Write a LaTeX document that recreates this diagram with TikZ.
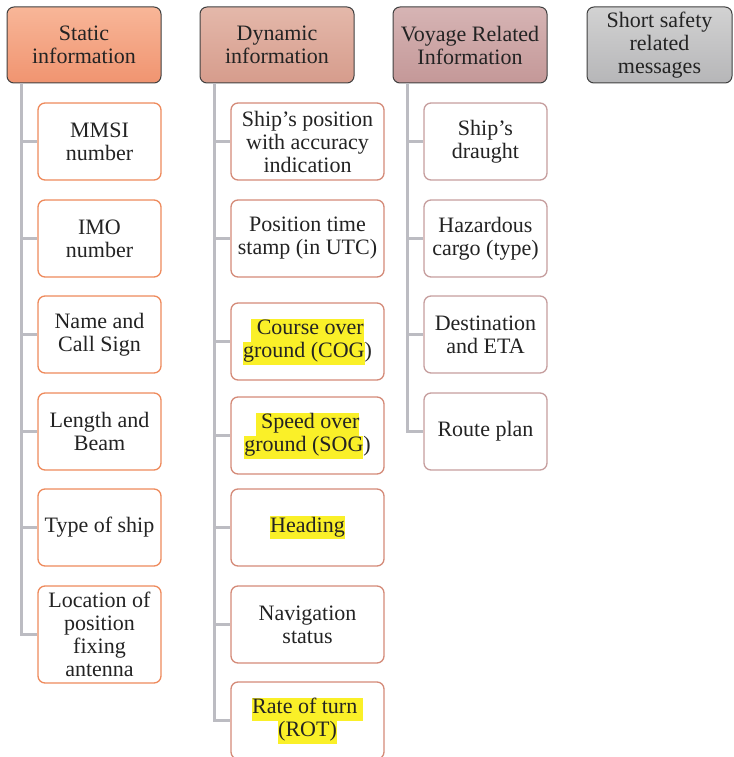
\documentclass[tikz,border=0pt]{standalone}
\usepackage{fontspec}
\setmainfont{Liberation Serif}

\definecolor{staticTop}{RGB}{248,182,152}
\definecolor{staticBot}{RGB}{240,148,112}
\definecolor{dynTop}{RGB}{228,184,170}
\definecolor{dynBot}{RGB}{214,156,140}
\definecolor{voyTop}{RGB}{214,180,180}
\definecolor{voyBot}{RGB}{196,152,152}
\definecolor{safeTop}{RGB}{210,210,210}
\definecolor{safeBot}{RGB}{182,182,184}
\definecolor{staticLine}{RGB}{238,138,92}
\definecolor{dynLine}{RGB}{212,138,120}
\definecolor{voyLine}{RGB}{198,158,158}
\definecolor{trunk}{RGB}{188,188,194}
\definecolor{hlyellow}{RGB}{250,240,40}
\definecolor{ink}{RGB}{35,35,35}

\newcommand\hlt[1]{{\setlength{\fboxsep}{0pt}\colorbox{hlyellow}{\strut #1}}}

\tikzset{
  box/.style={draw, rounded corners=7pt, line width=1.3pt, align=center,
    inner sep=1pt, minimum height=77pt, text=ink,
    font=\fontsize{22}{23}\selectfont},
  head/.style={box, draw=black!75, line width=1pt, minimum width=154pt, minimum height=76pt},
  leaf/.style={box, fill=white, minimum width=123pt},
  conn/.style={draw=trunk, line width=3.8pt}
}

\begin{document}
\begin{tikzpicture}[x=1pt,y=-1pt]
        \useasboundingbox (0,0) rectangle (733,757);

        % draw the four headers
        \node[head, top color=staticTop, bottom color=staticBot] (st) at (84,45) {Static\\information};
        \node[head, top color=dynTop, bottom color=dynBot] (dy) at (277,45) {Dynamic\\information};
        \node[head, top color=voyTop, bottom color=voyBot] (vo) at (470,45) {Voyage Related\\Information};
        \node[head, top color=safeTop, bottom color=safeBot, minimum width=145pt] (sa) at (659.5,45) {Short safety\\related\\messages};

        % trunk start points
        \coordinate (st-t) at ([xshift=15pt]st.south west);
        \coordinate (dy-t) at ([xshift=15pt]dy.south west);
        \coordinate (vo-t) at ([xshift=15pt]vo.south west);

        % static information
        \foreach \y/\n/\txt in {
            141.5/st1/{MMSI\\number},
            238.5/st2/{IMO\\number},
            334.5/st3/{Name and\\Call Sign},
            431.5/st4/{Length and\\Beam},
            527.5/st5/{Type of ship}}
        {
                \node[leaf, draw=staticLine] (\n) at (99.5,\y) {\txt};
                \draw[conn] (st-t) |- (\n.west);
        }
        \node[leaf, draw=staticLine, minimum height=97pt] (st6) at (99.5,634.5) {Location of\\position\\fixing\\antenna};
        \draw[conn] (st-t) |- (st6.west);

        % dynamic information
        \foreach \y/\n/\txt in {
            141.5/dy1/{Ship's position\\with accuracy\\indication},
            238.5/dy2/{Position time\\stamp (in UTC)},
            341.5/dy3/{\hlt{ Course over}\\\hlt{ground (COG})},
            435.5/dy4/{\hlt{ Speed over}\\\hlt{ground (SOG})},
            527.5/dy5/{\hlt{Heading}},
            624.5/dy6/{Navigation\\status},
            720.5/dy7/{\hlt{Rate of turn }\\\hlt{(ROT)}}}
        {
                \node[leaf, draw=dynLine, minimum width=153pt] (\n) at (307.5,\y) {\txt};
                \draw[conn] (dy-t) |- (\n.west);
        }

        % voyage related information
        \foreach \y/\n/\txt in {
            141.5/vo1/{Ship's\\draught},
            238.5/vo2/{Hazardous\\cargo (type)},
            334.5/vo3/{Destination\\and ETA},
            431.5/vo4/{Route plan}}
        {
                \node[leaf, draw=voyLine] (\n) at (485.5,\y) {\txt};
                \draw[conn] (vo-t) |- (\n.west);
        }
\end{tikzpicture}
\end{document}
